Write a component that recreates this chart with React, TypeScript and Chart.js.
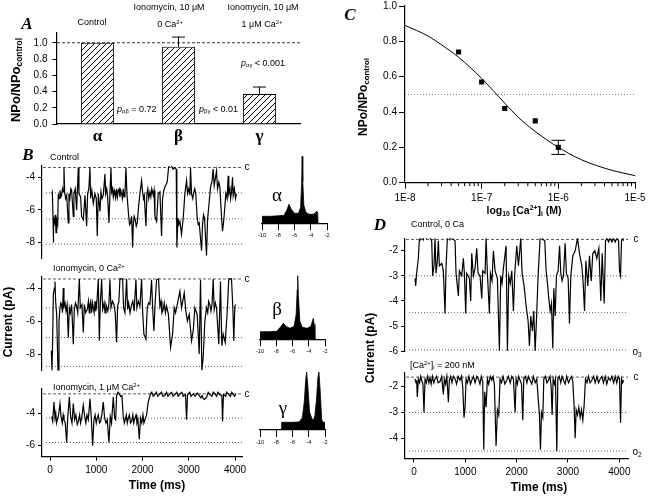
import React, { useEffect, useRef } from 'react';
import { Chart, registerables } from 'chart.js';
Chart.register(...registerables);

const SANS = '"Liberation Sans", Arial, Helvetica, sans-serif';
const SERIF = '"Liberation Serif", "Times New Roman", serif';

type P = [number, number];

// ---------- Panel A: bar chart ----------
const barCategories = ['α', 'β', 'γ'];
const barValues = [1.0, 0.95, 0.37];
const barErrUp = [0, 0.12, 0.085];
const barYTicks = [0, 0.2, 0.4, 0.6, 0.8, 1.0];

// ---------- Panel C: dose response ----------
const doseConc = [5e-8, 1e-7, 2e-7, 5e-7, 1e-6];
const doseValues = [0.74, 0.57, 0.42, 0.35, 0.2];
const doseErr = [0, 0, 0, 0, 0.04];
const fitConc = [1e-8, 2e-8, 3e-8, 5e-8, 1e-7, 2e-7, 3e-7, 5e-7, 1e-6, 2e-6, 5e-6, 1e-5];
const fitValues = [0.89, 0.83, 0.78, 0.71, 0.59, 0.45, 0.37, 0.29, 0.2, 0.13, 0.07, 0.04];
const doseXTicks = [1e-8, 1e-7, 1e-6, 1e-5];
const doseXLabels = ['1E-8', '1E-7', '1E-6', '1E-5'];
const doseYTicks = [0, 0.2, 0.4, 0.6, 0.8, 1.0];

// ---------- Panel B: traces (time ms, current pA) ----------
const traceB1: P[] = [[36,-5.0],[50,-4.9],[65,-6.4],[72,-8.0],[79,-6.5],[100,-6.8],[115,-6.3],[130,-7.4],[144,-6.6],[166,-6.9],[180,-5.0],[198,-5.3],[216,-4.8],[234,-5.2],[252,-5.1],[270,-4.7],[288,-4.9],[302,-3.4],[317,-4.9],[338,-5.3],[360,-5.1],[396,-6.8],[410,-5.0],[430,-5.3],[450,-4.7],[468,-4.8],[504,-6.4],[518,-5.0],[545,-4.7],[576,-6.0],[590,-4.9],[612,-3.4],[626,-5.0],[662,-5.2],[684,-6.4],[720,-6.6],[756,-5.1],[792,-7.0],[814,-5.0],[840,-4.7],[864,-3.4],[878,-5.3],[905,-4.8],[936,-5.6],[972,-5.0],[1000,-5.3],[1022,-7.6],[1044,-5.0],[1080,-6.1],[1102,-4.9],[1125,-5.3],[1152,-5.1],[1188,-3.8],[1202,-5.0],[1225,-4.7],[1246,-5.2],[1274,-6.8],[1296,-5.0],[1318,-3.4],[1332,-4.9],[1350,-4.7],[1368,-5.2],[1386,-4.8],[1404,-5.1],[1420,-5.3],[1440,-4.7],[1458,-5.2],[1476,-4.8],[1495,-4.7],[1512,-5.2],[1530,-4.8],[1548,-5.0],[1566,-5.3],[1584,-4.7],[1602,-5.2],[1620,-5.1],[1642,-3.4],[1663,-5.0],[1699,-6.3],[1720,-6.9],[1742,-6.8],[1765,-6.4],[1786,-8.3],[1800,-6.9],[1820,-6.4],[1843,-6.6],[1865,-7.0],[1886,-6.8],[1915,-5.8],[1944,-5.0],[1980,-4.2],[2002,-4.9],[2020,-5.3],[2038,-5.1],[2074,-7.0],[2095,-5.0],[2115,-4.7],[2135,-5.3],[2160,-4.9],[2180,-5.2],[2200,-4.7],[2232,-5.1],[2250,-4.8],[2268,-6.4],[2304,-6.7],[2340,-5.0],[2376,-4.9],[2412,-7.6],[2434,-5.3],[2460,-4.8],[2484,-4.6],[2534,-4.3],[2563,-3.4],[2595,-3.2],[2628,-3.3],[2660,-3.5],[2700,-3.4],[2729,-3.5],[2743,-8.3],[2765,-6.5],[2785,-6.9],[2808,-6.7],[2844,-7.5],[2880,-6.5],[2916,-5.0],[2952,-4.2],[2974,-5.0],[3000,-4.7],[3024,-5.1],[3038,-3.4],[3060,-5.0],[3085,-5.3],[3110,-4.9],[3130,-4.7],[3154,-5.1],[3182,-6.5],[3205,-6.9],[3226,-6.8],[3276,-8.5],[3298,-6.9],[3320,-6.3],[3341,-6.5],[3384,-8.8],[3406,-6.6],[3442,-5.5],[3470,-4.6],[3500,-4.3],[3528,-3.5],[3550,-4.5],[3600,-3.6],[3622,-4.7],[3650,-4.3],[3672,-4.6],[3708,-6.4],[3730,-7.3],[3758,-6.6],[3802,-5.0],[3830,-5.3],[3852,-3.9],[3866,-5.0],[3890,-4.7],[3905,-5.3],[3924,-4.9],[3946,-4.0],[3960,-5.1],[3985,-4.7],[4010,-5.3],[4032,-5.0]];

const traceB2: P[] = [[29,-7.8],[43,-9.0],[58,-7.0],[72,-4.4],[94,-4.0],[108,-3.6],[122,-4.8],[144,-5.6],[173,-9.0],[194,-6.0],[216,-5.2],[235,-4.9],[252,-5.0],[270,-5.5],[288,-4.0],[302,-5.1],[325,-4.9],[346,-5.4],[370,-5.0],[396,-7.0],[418,-5.2],[440,-5.5],[468,-5.0],[504,-7.4],[526,-5.3],[550,-4.9],[576,-5.1],[600,-5.5],[634,-3.45],[655,-5.2],[690,-5.0],[720,-6.7],[742,-5.0],[770,-5.5],[806,-5.3],[830,-4.8],[850,-5.5],[864,-5.0],[880,-4.8],[900,-5.5],[920,-4.9],[936,-5.2],[955,-5.5],[975,-4.8],[990,-5.4],[1008,-5.1],[1044,-3.45],[1066,-7.2],[1087,-5.0],[1116,-3.45],[1138,-5.3],[1170,-4.9],[1190,-5.5],[1210,-5.0],[1250,-5.4],[1275,-4.9],[1296,-3.5],[1318,-5.2],[1350,-4.8],[1382,-5.0],[1410,-5.5],[1440,-7.3],[1462,-5.1],[1490,-4.8],[1512,-3.45],[1570,-3.45],[1591,-5.2],[1620,-5.5],[1656,-3.45],[1678,-5.3],[1700,-4.9],[1730,-5.5],[1764,-5.0],[1790,-4.8],[1820,-5.4],[1858,-3.5],[1879,-5.2],[1910,-4.8],[1944,-5.1],[1980,-3.45],[2002,-5.4],[2030,-6.8],[2074,-7.1],[2102,-5.2],[2130,-4.9],[2160,-5.0],[2196,-3.5],[2218,-5.1],[2246,-6.6],[2275,-4.8],[2304,-3.5],[2347,-3.45],[2376,-5.1],[2400,-4.8],[2420,-5.5],[2448,-5.3],[2470,-4.9],[2495,-5.5],[2520,-5.1],[2560,-5.6],[2606,-7.6],[2650,-6.8],[2686,-5.2],[2715,-5.5],[2750,-5.0],[2808,-4.2],[2844,-5.2],[2902,-4.3],[2938,-5.4],[2970,-6.0],[3010,-5.6],[3060,-7.2],[3096,-6.6],[3132,-5.2],[3182,-5.6],[3226,-8.0],[3254,-3.5],[3283,-9.0],[3312,-8.2],[3348,-6.0],[3384,-5.2],[3410,-5.5],[3430,-4.8],[3456,-5.0],[3480,-5.4],[3505,-4.9],[3528,-3.45],[3550,-5.3],[3575,-4.9],[3600,-5.2],[3650,-7.4],[3686,-3.6],[3715,-7.5],[3744,-6.8],[3787,-7.3],[3830,-5.5],[3866,-3.45],[3924,-3.45],[3953,-5.2],[3974,-7.2],[3996,-5.1],[4018,-5.0]];

const traceB3: P[] = [[36,-4.2],[58,-4.5],[86,-3.3],[108,-4.3],[125,-4.0],[140,-4.6],[158,-4.4],[185,-4.1],[216,-3.4],[238,-4.2],[265,-4.6],[285,-4.1],[302,-4.4],[330,-4.6],[360,-5.8],[382,-4.3],[418,-3.0],[446,-4.2],[475,-4.6],[504,-3.4],[533,-4.4],[560,-4.1],[590,-4.7],[612,-4.5],[640,-4.1],[660,-4.6],[684,-4.3],[720,-3.5],[749,-4.2],[775,-4.6],[800,-4.1],[828,-4.4],[864,-3.1],[893,-4.3],[922,-6.0],[950,-4.4],[975,-4.1],[1000,-4.6],[1022,-4.3],[1045,-4.1],[1070,-4.6],[1094,-4.5],[1120,-4.1],[1152,-3.3],[1181,-4.3],[1210,-4.6],[1238,-4.4],[1274,-5.8],[1303,-4.2],[1330,-4.6],[1368,-3.0],[1397,-4.3],[1420,-4.4],[1440,-2.9],[1470,-2.7],[1498,-2.8],[1525,-2.95],[1555,-2.9],[1584,-4.2],[1605,-4.6],[1627,-4.4],[1650,-4.1],[1670,-4.6],[1692,-4.3],[1715,-4.1],[1740,-4.6],[1764,-4.5],[1790,-4.1],[1810,-4.6],[1836,-4.3],[1860,-4.1],[1880,-4.6],[1901,-4.4],[1930,-5.6],[1958,-4.3],[1985,-4.6],[2010,-4.1],[2030,-4.6],[2052,-4.4],[2088,-4.1],[2124,-3.3],[2174,-2.8],[2200,-2.7],[2230,-2.95],[2268,-2.85],[2300,-2.7],[2330,-2.95],[2376,-2.8],[2410,-2.7],[2440,-2.95],[2484,-2.9],[2520,-2.7],[2550,-2.95],[2592,-2.8],[2630,-2.7],[2660,-2.95],[2700,-2.85],[2740,-2.7],[2770,-2.95],[2808,-2.8],[2850,-2.7],[2880,-2.95],[2930,-2.85],[2952,-4.4],[2974,-2.85],[3020,-2.7],[3050,-2.95],[3096,-2.8],[3140,-2.95],[3180,-2.75],[3226,-2.9],[3260,-3.05],[3290,-2.9],[3312,-3.1],[3340,-3.15],[3384,-3.0],[3420,-2.7],[3456,-2.85],[3500,-2.95],[3530,-2.7],[3564,-2.8],[3600,-2.95],[3630,-2.7],[3672,-2.85],[3715,-2.9],[3730,-4.5],[3751,-2.85],[3800,-2.95],[3820,-2.7],[3852,-2.8],[3900,-2.95],[3930,-2.7],[3960,-2.85],[3990,-2.95],[4018,-2.8]];

// ---------- Panel D: traces ----------
const traceD1: P[] = [[20,-3.1],[33,-3.4],[52,-2.9],[85,-2.3],[104,-1.6],[115,-1.35],[130,-1.5],[155,-1.35],[182,-1.55],[210,-1.35],[247,-1.5],[275,-1.35],[312,-1.5],[345,-1.6],[364,-3.0],[390,-2.6],[410,-1.5],[429,-2.9],[455,-2.4],[475,-1.6],[494,-2.6],[540,-2.5],[572,-2.8],[605,-4.5],[624,-2.7],[650,-1.5],[675,-1.35],[702,-1.55],[735,-1.4],[767,-1.55],[800,-1.6],[819,-2.9],[865,-3.8],[884,-2.8],[930,-3.0],[962,-2.3],[982,-2.9],[1008,-4.5],[1027,-2.9],[1079,-3.1],[1105,-4.0],[1125,-2.1],[1157,-3.0],[1190,-2.7],[1222,-1.9],[1248,-2.9],[1287,-3.0],[1320,-3.9],[1339,-2.8],[1385,-2.9],[1404,-1.5],[1430,-2.9],[1469,-4.5],[1489,-2.9],[1520,-3.2],[1547,-2.0],[1580,-2.8],[1625,-3.1],[1664,-6.0],[1690,-3.0],[1715,-3.3],[1742,-2.7],[1794,-1.8],[1820,-6.0],[1846,-3.0],[1875,-3.3],[1905,-2.8],[1937,-4.4],[1963,-2.9],[2002,-1.8],[2035,-2.6],[2080,-1.5],[2106,-2.9],[2145,-3.4],[2184,-4.2],[2223,-4.8],[2249,-5.8],[2275,-4.6],[2307,-5.2],[2333,-4.4],[2360,-6.0],[2385,-4.8],[2418,-3.0],[2457,-1.5],[2480,-1.35],[2509,-1.55],[2548,-1.6],[2574,-2.8],[2600,-3.3],[2626,-3.9],[2652,-4.4],[2678,-4.1],[2704,-5.9],[2724,-3.5],[2750,-4.6],[2775,-3.0],[2808,-2.8],[2836,-1.8],[2860,-2.9],[2885,-3.2],[2912,-3.0],[2944,-1.7],[2970,-2.9],[3003,-3.1],[3029,-4.9],[3055,-3.0],[3094,-2.2],[3140,-2.0],[3185,-1.5],[3224,-2.1],[3270,-2.6],[3296,-3.3],[3322,-4.4],[3348,-2.4],[3386,-3.4],[3419,-2.2],[3452,-3.2],[3484,-2.1],[3523,-2.0],[3562,-2.3],[3601,-1.9],[3640,-4.0],[3666,-2.1],[3705,-4.1],[3731,-1.6],[3760,-1.5],[3790,-1.65],[3820,-1.5],[3855,-1.65],[3885,-1.5],[3920,-1.65],[3950,-1.5],[3985,-1.6],[4004,-2.8],[4024,-3.0],[4043,-1.6],[4065,-1.5],[4082,-1.6]];

const traceD2: P[] = [[20,-1.7],[40,-1.85],[52,-1.75],[65,-2.4],[85,-1.7],[110,-1.85],[130,-1.6],[150,-1.75],[175,-1.9],[195,-3.0],[215,-1.7],[240,-1.85],[265,-1.6],[290,-1.85],[312,-1.65],[335,-1.9],[360,-1.6],[385,-1.85],[410,-1.7],[440,-1.6],[470,-1.85],[507,-1.8],[540,-1.6],[572,-2.3],[592,-1.7],[615,-1.9],[640,-1.6],[670,-2.6],[689,-1.75],[715,-1.6],[740,-1.85],[770,-1.6],[800,-1.7],[830,-1.9],[860,-1.6],[897,-1.75],[925,-1.6],[949,-2.0],[975,-3.2],[995,-2.8],[1014,-1.7],[1040,-1.85],[1070,-1.6],[1100,-1.9],[1125,-1.75],[1160,-1.6],[1190,-1.85],[1225,-1.6],[1255,-1.7],[1285,-1.9],[1310,-1.6],[1339,-1.8],[1359,-4.45],[1378,-2.2],[1404,-2.8],[1430,-1.7],[1455,-1.9],[1485,-1.6],[1515,-1.75],[1540,-1.6],[1566,-1.9],[1599,-4.3],[1625,-2.9],[1651,-3.1],[1677,-1.7],[1705,-1.85],[1735,-1.6],[1770,-1.9],[1807,-1.75],[1840,-1.6],[1875,-1.85],[1905,-1.6],[1937,-1.7],[1970,-3.0],[1989,-1.7],[2015,-1.9],[2040,-1.6],[2067,-1.75],[2095,-1.9],[2119,-3.3],[2139,-1.7],[2170,-1.6],[2200,-1.85],[2230,-1.6],[2262,-1.75],[2295,-1.9],[2325,-1.6],[2360,-1.85],[2392,-1.7],[2425,-2.6],[2444,-3.1],[2464,-4.45],[2483,-3.0],[2509,-3.2],[2529,-1.7],[2560,-1.6],[2590,-1.85],[2620,-1.75],[2650,-1.6],[2672,-2.0],[2691,-3.1],[2711,-1.7],[2735,-1.9],[2756,-1.7],[2782,-4.5],[2802,-1.7],[2830,-1.6],[2860,-1.85],[2885,-1.6],[2912,-1.75],[2945,-1.9],[2975,-1.6],[3010,-1.85],[3042,-1.7],[3070,-1.6],[3094,-1.8],[3120,-2.8],[3140,-4.0],[3159,-2.9],[3185,-3.1],[3211,-2.8],[3237,-3.2],[3263,-2.9],[3289,-3.3],[3315,-2.7],[3341,-1.7],[3370,-1.85],[3400,-1.6],[3430,-1.85],[3464,-1.75],[3500,-1.6],[3530,-1.85],[3565,-1.6],[3595,-1.85],[3627,-1.7],[3660,-1.6],[3690,-1.85],[3725,-1.6],[3755,-1.9],[3790,-1.65],[3822,-1.75],[3855,-1.6],[3890,-1.85],[3920,-1.6],[3950,-1.85],[3980,-1.6],[4004,-1.7],[4024,-3.4],[4043,-1.7],[4065,-1.85],[4082,-1.75]];

// levels: [closed, open levels...]
const levelsB1 = [-3.4, -4.95, -6.55, -8.1];
const levelsB2 = [-3.45, -5.2, -7.0, -8.75];
const levelsB3 = [-2.8, -4.3, -5.8];
const levelsD1 = [-1.55, -3.0, -4.47, -5.95];
const levelsD2 = [-1.63, -3.0, -4.5];

const ticksB12 = [-4, -6, -8];
const ticksB3 = [-4, -6];
const ticksD1 = [-2, -3, -4, -5, -6];
const ticksD2 = [-2, -3, -4];
const timeTicks = [0, 1000, 2000, 3000, 4000];

// ---------- Panel B: amplitude histograms (pA, relative count) ----------
const histAlpha: P[] = [[-10,0],[-10,7],[-9,7],[-8,7.5],[-7.3,8],[-6.95,13],[-6.68,19],[-6.4,14],[-6.0,10],[-5.5,10],[-5.25,16],[-5.12,40],[-5.06,67],[-4.98,42],[-4.85,18],[-4.6,11],[-4.2,9],[-3.7,9],[-3.45,10],[-3.3,12],[-3.15,11],[-3.1,0]];
const histBeta: P[] = [[-10,0],[-10,7.6],[-9,7.6],[-7.95,8],[-7.5,12],[-7.13,16],[-6.8,13],[-6.3,11],[-5.8,13],[-5.55,25],[-5.42,50],[-5.36,63.6],[-5.28,45],[-5.1,18],[-4.8,12],[-4.2,11],[-3.75,13],[-3.55,18],[-3.44,21],[-3.34,15],[-3.24,10],[-3.24,0]];
const histGamma: P[] = [[-7.34,0],[-7.34,7.7],[-6,7.7],[-5.2,8],[-4.8,12],[-4.55,28],[-4.38,50],[-4.26,58],[-4.12,45],[-3.9,18],[-3.6,11],[-3.44,10],[-3.25,14],[-3.05,30],[-2.88,52],[-2.75,58],[-2.6,40],[-2.4,10],[-2.2,7.7],[-2,7.7],[-2,0]];
const histTicks = [-10, -8, -6, -4, -2];

// ---------- helpers ----------
const fixY = (w: number) => (s: any) => { s.width = w; s.paddingTop = 0; s.paddingBottom = 0; };
const fixX = (h: number) => (s: any) => { s.height = h; s.paddingLeft = 0; s.paddingRight = 0; };
const setTicks = (vals: number[]) => (s: any) => { s.ticks = vals.map((v) => ({ value: v })); };

function axis(size: number, tickLength: number, pad: number, extra: any = {}) {
  const { ticks: tx, ...rest } = extra;
  return {
    grid: { drawOnChartArea: false, color: '#000', tickColor: '#000', tickLength, tickWidth: 1 },
    border: { display: true, color: '#000', width: 1.2 },
    ticks: { color: '#000', font: { family: SANS, size }, padding: pad, autoSkip: false, maxRotation: 0, minRotation: 0, ...(tx || {}) },
    ...rest,
  };
}

const baseOpts = {
  animation: false,
  responsive: false,
  events: [],
  plugins: { legend: { display: false }, tooltip: { enabled: false } },
};

function hatchPattern() {
  const c = document.createElement('canvas');
  c.width = 6;
  c.height = 6;
  const g = c.getContext('2d')!;
  g.fillStyle = '#fff';
  g.fillRect(0, 0, 6, 6);
  g.strokeStyle = '#000';
  g.lineWidth = 1;
  g.beginPath();
  g.moveTo(0, 6); g.lineTo(6, 0);
  g.moveTo(-1, 1); g.lineTo(1, -1);
  g.moveTo(5, 7); g.lineTo(7, 5);
  g.stroke();
  return g.createPattern(c, 'repeat')!;
}

function hline(ctx: CanvasRenderingContext2D, x0: number, x1: number, y: number) {
  ctx.beginPath();
  ctx.moveTo(x0, y);
  ctx.lineTo(x1, y);
  ctx.stroke();
}

function makeA() {
  return {
    type: 'bar',
    data: {
      labels: barCategories,
      datasets: [{ data: barValues, backgroundColor: hatchPattern(), borderColor: '#000', borderWidth: 1, barPercentage: 0.41, categoryPercentage: 1 }],
    },
    options: {
      ...baseOpts,
      layout: { padding: { top: 33, right: 10, left: 0, bottom: 0 } },
      scales: {
        x: {
          type: 'category',
          afterFit: fixX(24),
          grid: { display: false, drawTicks: false },
          border: { display: true, color: '#000', width: 1.2 },
          ticks: { color: '#000', font: { family: SERIF, size: 17, weight: 'bold' }, padding: 2 },
        },
        y: axis(10, 4.5, 5, {
          min: 0, max: 1.12,
          afterBuildTicks: setTicks(barYTicks),
          afterFit: fixY(57),
          ticks: { callback: (v: any) => Number(v).toFixed(1) },
        }),
      },
    },
    plugins: [{
      id: 'aExtras',
      afterDatasetsDraw(chart: any) {
        const { ctx, chartArea: a, scales: { x, y } } = chart;
        ctx.save();
        ctx.strokeStyle = '#000';
        ctx.lineWidth = 0.8;
        ctx.setLineDash([3, 2]);
        hline(ctx, a.left, a.right, y.getPixelForValue(1.0));
        ctx.setLineDash([]);
        ctx.lineWidth = 1;
        barValues.forEach((v, i) => {
          if (!barErrUp[i]) return;
          const px = x.getPixelForValue(i);
          const yb = y.getPixelForValue(v);
          const yt = y.getPixelForValue(v + barErrUp[i]);
          ctx.beginPath();
          ctx.moveTo(px, yb); ctx.lineTo(px, yt);
          ctx.moveTo(px - 6.5, yt); ctx.lineTo(px + 6.5, yt);
          ctx.stroke();
        });
        ctx.restore();
      },
    }],
  };
}

function makeC() {
  return {
    type: 'line',
    data: {
      datasets: [
        { data: fitConc.map((c, i) => ({ x: c, y: fitValues[i] })), borderColor: '#000', borderWidth: 1, pointRadius: 0, cubicInterpolationMode: 'monotone', fill: false },
        { data: doseConc.map((c, i) => ({ x: c, y: doseValues[i] })), showLine: false, pointStyle: 'rect', pointRadius: 3.6, backgroundColor: '#000', borderColor: '#000', borderWidth: 0 },
      ],
    },
    options: {
      ...baseOpts,
      layout: { padding: { top: 6, right: 13, left: 0, bottom: 0 } },
      scales: {
        x: axis(10, 6, 4, {
          type: 'logarithmic', min: 1e-8, max: 1e-5,
          afterBuildTicks: setTicks(doseXTicks),
          afterFit: fixX(22.3),
          ticks: { callback: (_v: any, i: number) => doseXLabels[i] },
        }),
        y: axis(10, 6, 2, {
          min: 0, max: 1,
          afterBuildTicks: setTicks(doseYTicks),
          afterFit: fixY(75),
          ticks: { callback: (v: any) => Number(v).toFixed(1) },
        }),
      },
    },
    plugins: [{
      id: 'cExtras',
      beforeDatasetsDraw(chart: any) {
        const { ctx, chartArea: a, scales: { x, y } } = chart;
        ctx.save();
        ctx.strokeStyle = '#555';
        ctx.lineWidth = 0.8;
        ctx.setLineDash([1, 2]);
        hline(ctx, a.left, a.right, y.getPixelForValue(0.5));
        ctx.setLineDash([]);
        ctx.strokeStyle = '#000';
        ctx.lineWidth = 1;
        for (let k = -8; k < -5; k++) {
          for (let m = 2; m <= 9; m++) {
            const px = x.getPixelForValue(m * Math.pow(10, k));
            ctx.beginPath();
            ctx.moveTo(px, a.bottom); ctx.lineTo(px, a.bottom + 3.5);
            ctx.stroke();
          }
        }
        ctx.restore();
      },
      afterDatasetsDraw(chart: any) {
        const { ctx, scales: { x, y } } = chart;
        ctx.save();
        ctx.strokeStyle = '#000';
        ctx.lineWidth = 1;
        doseConc.forEach((c, i) => {
          if (!doseErr[i]) return;
          const px = x.getPixelForValue(c);
          const y0 = y.getPixelForValue(doseValues[i] - doseErr[i]);
          const y1 = y.getPixelForValue(doseValues[i] + doseErr[i]);
          ctx.beginPath();
          ctx.moveTo(px, y0); ctx.lineTo(px, y1);
          ctx.moveTo(px - 7, y0); ctx.lineTo(px + 7, y0);
          ctx.moveTo(px - 7, y1); ctx.lineTo(px + 7, y1);
          ctx.stroke();
        });
        ctx.restore();
      },
    }],
  };
}

function makeTrace(o: { data: P[]; levels: number[]; yMin: number; yMax: number; yTicks: number[]; xMin: number; xMax: number; yW: number; pad: any; showX: boolean; xH?: number }) {
  return {
    type: 'line',
    data: { datasets: [{ data: o.data, borderColor: '#000', borderWidth: 1.2, pointRadius: 0, tension: 0, fill: false }] },
    options: {
      ...baseOpts,
      layout: { padding: o.pad },
      scales: {
        x: axis(10, 4, 4, {
          type: 'linear', min: o.xMin, max: o.xMax, display: o.showX,
          afterBuildTicks: setTicks(timeTicks),
          afterFit: fixX(o.xH || 0),
          ticks: { callback: (v: any) => String(v) },
        }),
        y: axis(10, 4, 3, {
          min: o.yMin, max: o.yMax,
          afterBuildTicks: setTicks(o.yTicks),
          afterFit: fixY(o.yW),
          ticks: { callback: (v: any) => String(v) },
        }),
      },
    },
    plugins: [{
      id: 'levels',
      beforeDatasetsDraw(chart: any) {
        const { ctx, chartArea: a, scales: { y } } = chart;
        ctx.save();
        ctx.strokeStyle = '#333';
        ctx.lineWidth = 0.8;
        o.levels.forEach((lv, i) => {
          ctx.setLineDash(i === 0 ? [3, 2] : [1, 2]);
          hline(ctx, a.left + (i === 0 ? 1 : 4), a.right, y.getPixelForValue(lv));
        });
        ctx.restore();
      },
    }],
  };
}

function makeHist(data: P[], yMax: number, padTop: number, xH: number) {
  return {
    type: 'line',
    data: { datasets: [{ data, borderColor: '#000', borderWidth: 0.8, backgroundColor: '#000', fill: 'origin', pointRadius: 0, tension: 0 }] },
    options: {
      ...baseOpts,
      layout: { padding: { left: 12, right: 13, top: padTop, bottom: 0 } },
      scales: {
        x: axis(5.5, 7, 2, {
          type: 'linear', min: -10, max: -2,
          afterBuildTicks: setTicks(histTicks),
          afterFit: fixX(xH),
          ticks: { callback: (v: any) => String(v) },
        }),
        y: { display: false, min: 0, max: yMax },
      },
    },
  };
}

function ChartBox({ x, y, w, h, make }: { x: number; y: number; w: number; h: number; make: () => any }) {
  const ref = useRef<HTMLCanvasElement>(null);
  useEffect(() => {
    const chart = new Chart(ref.current as HTMLCanvasElement, make());
    return () => chart.destroy();
  }, []);
  return <canvas ref={ref} width={w} height={h} style={{ position: 'absolute', left: x, top: y, width: w, height: h }} />;
}

function T({ x, y, children, size = 9, bold = false, italic = false, serif = false, align = 'center', rotate = false }: any) {
  const tx = align === 'center' ? '-50%' : '0';
  return (
    <div
      style={{
        position: 'absolute', left: x, top: y,
        transform: `translate(${tx}, -50%)${rotate ? ' rotate(-90deg)' : ''}`,
        fontFamily: serif ? SERIF : SANS, fontSize: size,
        fontWeight: bold ? 'bold' : 'normal', fontStyle: italic ? 'italic' : 'normal',
        whiteSpace: 'nowrap', lineHeight: 1, color: '#000',
      }}
    >
      {children}
    </div>
  );
}

const sub = (t: string) => <sub style={{ fontSize: '0.65em', verticalAlign: '-0.3em', lineHeight: 0 }}>{t}</sub>;
const sup = (t: string) => <sup style={{ fontSize: '0.65em', verticalAlign: '0.5em', lineHeight: 0 }}>{t}</sup>;

export default function App() {
  return (
    <div style={{ position: 'absolute', left: 0, top: 0, width: 648, height: 496, background: '#fff', overflow: 'hidden' }}>
      {/* Panel A */}
      <ChartBox x={0} y={0} w={310} h={148} make={makeA} />
      {/* Panel C */}
      <ChartBox x={330} y={0} w={318} h={205} make={makeC} />
      {/* Panel B traces */}
      <ChartBox x={0} y={150} w={260} h={115} make={() => makeTrace({ data: traceB1, levels: levelsB1, yMin: -9.0, yMax: -3.3, yTicks: ticksB12, xMin: -173, xMax: 4151, yW: 42, pad: { top: 15.9, right: 18, bottom: 6.2, left: 0 }, showX: false })} />
      <ChartBox x={0} y={265} w={260} h={115} make={() => makeTrace({ data: traceB2, levels: levelsB2, yMin: -9.0, yMax: -3.3, yTicks: ticksB12, xMin: -173, xMax: 4151, yW: 42, pad: { top: 11.5, right: 18, bottom: 9.5, left: 0 }, showX: false })} />
      <ChartBox x={0} y={380} w={260} h={116} make={() => makeTrace({ data: traceB3, levels: levelsB3, yMin: -6.68, yMax: -2.5, yTicks: ticksB3, xMin: -173, xMax: 4151, yW: 42, pad: { top: 9, right: 18, bottom: 0, left: 0 }, showX: true, xH: 39.3 })} />
      {/* Panel B histograms */}
      <ChartBox x={250} y={150} w={90} h={100} make={() => makeHist(histAlpha, 70, 3.3, 26.7)} />
      <ChartBox x={248} y={265} w={90} h={100} make={() => makeHist(histBeta, 70, 4.3, 25.7)} />
      <ChartBox x={248} y={360} w={90} h={100} make={() => makeHist(histGamma, 65, 5, 30)} />
      {/* Panel D traces */}
      <ChartBox x={340} y={225} w={308} h={135} make={() => makeTrace({ data: traceD1, levels: levelsD1, yMin: -6.0, yMax: -1.5, yTicks: ticksD1, xMin: -175, xMax: 4169, yW: 65, pad: { top: 13.2, right: 20, bottom: 8.9, left: 0 }, showX: false })} />
      <ChartBox x={340} y={362} w={308} h={134} make={() => makeTrace({ data: traceD2, levels: levelsD2, yMin: -4.78, yMax: -1.45, yTicks: ticksD2, xMin: -175, xMax: 4169, yW: 65, pad: { top: 10.5, right: 20, bottom: 0, left: 0 }, showX: true, xH: 37.7 })} />

      {/* Panel A text */}
      <T x={27} y={23} size={17} bold italic serif>A</T>
      <T x={92} y={22}>Control</T>
      <T x={169} y={7}>Ionomycin, 10 μM</T>
      <T x={170} y={24}>0 Ca{sup('2+')}</T>
      <T x={263} y={7}>Ionomycin, 10 μM</T>
      <T x={262} y={24}>1 μM Ca{sup('2+')}</T>
      <T x={241} y={63} align="left"><i>p</i>{sub('αγ')} &lt; 0.001</T>
      <T x={117} y={109} align="left"><i>p</i>{sub('αβ')} = 0.72</T>
      <T x={199} y={109} align="left"><i>p</i>{sub('βγ')} &lt; 0.01</T>
      <T x={15} y={80} size={13} bold rotate>NPo/NPo{sub('control')}</T>

      {/* Panel B text */}
      <T x={28} y={154} size={17} bold italic serif>B</T>
      <T x={50} y={157} align="left">Control</T>
      <T x={53} y={268} align="left">Ionomycin, 0 Ca{sup('2+')}</T>
      <T x={53} y={387} align="left">Ionomycin, 1 μM Ca{sup('2+')}</T>
      <T x={247} y={167} size={10}>c</T>
      <T x={247} y={279} size={10}>c</T>
      <T x={247} y={394} size={10}>c</T>
      <T x={277} y={194} size={19} serif>α</T>
      <T x={277} y={308} size={19} serif>β</T>
      <T x={283} y={407} size={19} serif>γ</T>
      <T x={8} y={322} size={12} bold rotate>Current (pA)</T>
      <T x={157} y={485} size={12} bold>Time (ms)</T>

      {/* Panel C text */}
      <T x={350} y={14} size={17} bold italic serif>C</T>
      <T x={363} y={97} size={12} bold rotate>NPo/NPo{sub('control')}</T>
      <T x={524} y={210} size={10.5} bold>log{sub('10')} [Ca{sup('2+')}]{sub('i')} (M)</T>

      {/* Panel D text */}
      <T x={380} y={224} size={17} bold italic serif>D</T>
      <T x={411} y={224} align="left">Control, 0 Ca</T>
      <T x={410} y={365} align="left">[Ca{sup('2+')}]{sub('i')} = 200 nM</T>
      <T x={636} y={239} size={10}>c</T>
      <T x={636} y={377} size={10}>c</T>
      <T x={637} y={352} size={10}>o{sub('3')}</T>
      <T x={637} y={452} size={10}>o{sub('2')}</T>
      <T x={370} y={348} size={12} bold rotate>Current (pA)</T>
      <T x={539} y={487} size={12} bold>Time (ms)</T>
    </div>
  );
}
